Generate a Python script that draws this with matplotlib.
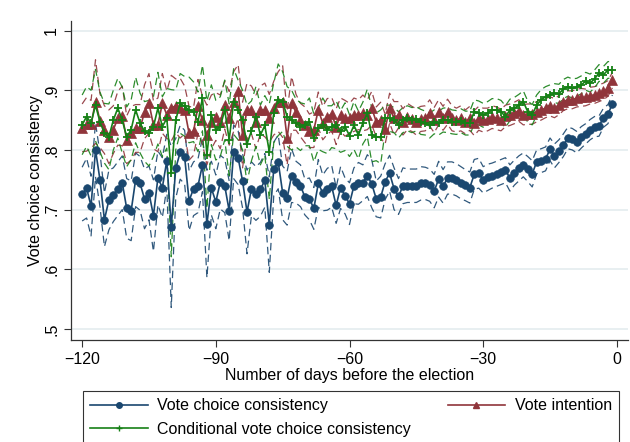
import numpy as np
import matplotlib
matplotlib.use("Agg")
import matplotlib.pyplot as plt
from matplotlib.lines import Line2D

plt.rcParams['font.family'] = ['Liberation Sans', 'DejaVu Sans']

# days before the election
days = np.arange(-120, 0)

# Vote choice consistency
vcc = [0.726, 0.736, 0.706, 0.800, 0.750, 0.683, 0.716, 0.725, 0.735, 0.745, 0.702, 0.698, 0.750, 0.744, 0.718, 0.728,
       0.690, 0.753, 0.737, 0.782, 0.671, 0.769, 0.796, 0.788, 0.715, 0.735, 0.740, 0.775, 0.676, 0.736, 0.713,
       0.746, 0.740, 0.698, 0.797, 0.787, 0.748, 0.696, 0.735, 0.727, 0.734, 0.749, 0.675, 0.768, 0.780, 0.728,
       0.719, 0.757, 0.746, 0.740, 0.721, 0.718, 0.702, 0.744, 0.728, 0.734, 0.739, 0.707, 0.737, 0.723,
       0.710, 0.740, 0.744, 0.745, 0.757, 0.743, 0.718, 0.721, 0.747, 0.761, 0.735, 0.722, 0.740, 0.740, 0.740,
       0.740, 0.744, 0.744, 0.741, 0.731, 0.751, 0.739, 0.753, 0.753, 0.750, 0.745, 0.741, 0.737, 0.759, 0.761,
       0.750, 0.754, 0.757, 0.760, 0.763, 0.766, 0.753, 0.762, 0.769, 0.775, 0.768, 0.760, 0.780, 0.782, 0.785,
       0.801, 0.790, 0.798, 0.808, 0.820, 0.818, 0.813, 0.821, 0.827, 0.834, 0.839, 0.840, 0.854, 0.860, 0.877]
vcc_ci = [0.045, 0.05, 0.05, 0.045, 0.045, 0.045, 0.05, 0.045, 0.045, 0.045, 0.05, 0.05, 0.045, 0.045, 0.05, 0.045,
          0.06, 0.045, 0.05, 0.045, 0.135, 0.05, 0.045, 0.045, 0.05, 0.045, 0.045, 0.045, 0.09, 0.045,
          0.045, 0.045, 0.045, 0.05, 0.045, 0.045, 0.045, 0.07, 0.045, 0.045, 0.045, 0.045, 0.08, 0.045, 0.045,
          0.045, 0.045, 0.045,
          0.035, 0.035, 0.03, 0.035, 0.035, 0.04, 0.03, 0.035, 0.035, 0.03, 0.035, 0.03, 0.035, 0.03, 0.035, 0.03,
          0.035, 0.04, 0.03, 0.035, 0.03, 0.03, 0.035,
          0.03, 0.03, 0.028, 0.028, 0.028, 0.028, 0.027, 0.027, 0.028, 0.03, 0.028, 0.027, 0.027, 0.027, 0.027,
          0.026, 0.026, 0.025, 0.025,
          0.022, 0.022, 0.021, 0.021, 0.021, 0.021, 0.022, 0.021, 0.021, 0.02, 0.021, 0.022, 0.02, 0.02, 0.02,
          0.019, 0.02, 0.019, 0.019, 0.018, 0.018, 0.018, 0.018, 0.017, 0.017, 0.017, 0.017, 0.016, 0.016, 0.015]

# Vote intention
vi = [0.837, 0.843, 0.843, 0.881, 0.849, 0.834, 0.822, 0.834, 0.853, 0.857, 0.817, 0.828, 0.836, 0.836, 0.864, 0.878,
      0.842, 0.842, 0.878, 0.859, 0.870, 0.874, 0.870, 0.867, 0.828, 0.831, 0.873, 0.850, 0.825, 0.847, 0.856,
      0.847, 0.875, 0.853, 0.881, 0.898, 0.825, 0.867, 0.867, 0.847, 0.867, 0.867, 0.853, 0.870, 0.881, 0.881,
      0.820, 0.878, 0.863, 0.850, 0.842, 0.832, 0.834, 0.867, 0.845, 0.856, 0.860, 0.839, 0.859, 0.853,
      0.853, 0.859, 0.859, 0.862, 0.859, 0.870, 0.847, 0.850, 0.835, 0.870, 0.853, 0.859, 0.847, 0.856, 0.852,
      0.847, 0.852, 0.853, 0.862, 0.850, 0.863, 0.853, 0.864, 0.853, 0.850, 0.853, 0.847, 0.853, 0.845, 0.853,
      0.850, 0.851, 0.855, 0.853, 0.850, 0.857, 0.859, 0.862, 0.866, 0.859, 0.860, 0.860, 0.864, 0.867, 0.870,
      0.873, 0.870, 0.875, 0.881, 0.884, 0.884, 0.887, 0.888, 0.888, 0.891, 0.892, 0.895, 0.898, 0.903, 0.917]
vi_ci = [0.04, 0.045, 0.04, 0.07, 0.045, 0.04, 0.045, 0.04, 0.045, 0.05, 0.04, 0.045, 0.04, 0.04, 0.045, 0.05,
         0.04, 0.045, 0.05, 0.04, 0.055, 0.045, 0.05, 0.04, 0.045, 0.04, 0.045, 0.04, 0.05, 0.045, 0.04,
         0.045, 0.04, 0.045, 0.05, 0.045, 0.055, 0.045, 0.04, 0.045, 0.04, 0.045, 0.04, 0.045, 0.05, 0.06,
         0.045, 0.045,
         0.03, 0.028, 0.03, 0.028, 0.03, 0.03, 0.028, 0.03, 0.028, 0.03, 0.028, 0.03, 0.025, 0.028, 0.025, 0.03,
         0.025, 0.028, 0.025, 0.03, 0.025, 0.025, 0.028,
         0.022, 0.022, 0.022, 0.021, 0.022, 0.021, 0.021, 0.022, 0.021, 0.021, 0.02, 0.021, 0.021, 0.02, 0.021,
         0.02, 0.02, 0.021, 0.02,
         0.02, 0.019, 0.019, 0.019, 0.018, 0.018, 0.018, 0.018, 0.018, 0.017, 0.017, 0.017, 0.017, 0.017, 0.016,
         0.016, 0.016, 0.016, 0.015, 0.015, 0.015, 0.015, 0.015, 0.014, 0.014, 0.014, 0.014, 0.014, 0.013, 0.013]

# Conditional vote choice consistency
cvc = [0.842, 0.856, 0.845, 0.875, 0.847, 0.828, 0.822, 0.850, 0.870, 0.850, 0.822, 0.834, 0.867, 0.845, 0.831, 0.828,
       0.839, 0.870, 0.839, 0.853, 0.761, 0.850, 0.878, 0.873, 0.867, 0.864, 0.847, 0.887, 0.792, 0.859, 0.833,
       0.839, 0.867, 0.817, 0.881, 0.867, 0.850, 0.810, 0.832, 0.856, 0.825, 0.841, 0.797, 0.862, 0.884, 0.881,
       0.856, 0.850, 0.845, 0.839, 0.842, 0.847, 0.820, 0.836, 0.842, 0.834, 0.839, 0.842, 0.831, 0.839,
       0.824, 0.841, 0.825, 0.845, 0.862, 0.825, 0.822, 0.822, 0.853, 0.853, 0.850, 0.842, 0.850, 0.853, 0.850,
       0.852, 0.847, 0.845, 0.841, 0.847, 0.845, 0.850, 0.850, 0.847, 0.846, 0.849, 0.845, 0.845, 0.864, 0.862,
       0.858, 0.862, 0.867, 0.867, 0.864, 0.856, 0.867, 0.870, 0.875, 0.881, 0.864, 0.859, 0.875, 0.884, 0.889,
       0.892, 0.895, 0.894, 0.902, 0.906, 0.903, 0.905, 0.909, 0.915, 0.912, 0.919, 0.929, 0.926, 0.934, 0.934]
cvc_ci = [0.05, 0.05, 0.055, 0.06, 0.05, 0.05, 0.055, 0.05, 0.05, 0.055, 0.05, 0.05, 0.055, 0.05, 0.05, 0.055,
          0.05, 0.06, 0.05, 0.05, 0.14, 0.05, 0.05, 0.05, 0.055, 0.05, 0.05, 0.055, 0.09, 0.05, 0.05,
          0.05, 0.05, 0.06, 0.055, 0.05, 0.05, 0.065, 0.05, 0.05, 0.05, 0.05, 0.08, 0.05, 0.06, 0.05, 0.05, 0.05,
          0.04, 0.04, 0.035, 0.04, 0.04, 0.035, 0.045, 0.04, 0.035, 0.04, 0.035, 0.04, 0.035, 0.04, 0.04, 0.035,
          0.04, 0.045, 0.04, 0.045,
          0.022, 0.022, 0.021, 0.022, 0.021, 0.021, 0.021, 0.02, 0.021, 0.02, 0.021, 0.02, 0.02, 0.02, 0.021,
          0.02, 0.02, 0.02, 0.02, 0.02, 0.02, 0.02,
          0.02, 0.019, 0.019, 0.019, 0.019, 0.018, 0.018, 0.018, 0.018, 0.018, 0.018, 0.017, 0.017, 0.017, 0.017,
          0.017, 0.016, 0.016, 0.016, 0.016, 0.016, 0.015, 0.015, 0.015, 0.015, 0.015, 0.014, 0.014, 0.014, 0.014]

yticks = [0.5, 0.6, 0.7, 0.8, 0.9, 1.0]
ytick_labels = ['.5', '.6', '.7', '.8', '.9', '1']
xticks = [-120, -90, -60, -30, 0]

navy = '#1a476f'
maroon = '#90353b'
green = '#168016'

fig = plt.figure(figsize=(6.3, 4.42), dpi=100)
ax = fig.add_axes([71 / 630, 1 - 340 / 442, 557 / 630, 319 / 442])

series = [
    (vcc, vcc_ci, navy, 'o', 5.5, 'Vote choice consistency'),
    (vi, vi_ci, maroon, '^', 6.5, 'Vote intention'),
    (cvc, cvc_ci, green, '+', 6, 'Conditional vote choice consistency'),
]

# confidence bands (dashed)
for vals, ci, col, mk, ms, lab in series:
    vals = np.array(vals)
    ci = np.array(ci)
    ax.plot(days, vals + ci, color=col, lw=0.9, dashes=(6, 3.5), alpha=0.9, zorder=2)
    ax.plot(days, vals - ci, color=col, lw=0.9, dashes=(6, 3.5), alpha=0.9, zorder=2)

# point estimates
for i, (vals, ci, col, mk, ms, lab) in enumerate(series):
    ax.plot(days, vals, color=col, lw=1.2, marker=mk, markersize=ms,
            markeredgewidth=1.3 if mk == '+' else 0.5, zorder=3 + i, label=lab)

ax.set_xlim(-122.5, 2.5)
ax.set_ylim(0.4816, 1.016)
ax.set_yticks(yticks)
ax.set_yticklabels(ytick_labels, rotation=90, va='center')
ax.set_xticks(xticks)
ax.tick_params(labelsize=11.5, length=5, width=0.8, color='#333333')
ax.grid(axis='y', color='#e6eef0', lw=1.3)
ax.set_axisbelow(True)
for s in ['top', 'right']:
    ax.spines[s].set_visible(False)
for s in ['left', 'bottom']:
    ax.spines[s].set_linewidth(0.9)
    ax.spines[s].set_color('#333333')

ax.set_xlabel('Number of days before the election', fontsize=11.5, labelpad=1)
ax.set_ylabel('Vote choice consistency', fontsize=11.5, labelpad=1)

# legend handles (small markers as in the original)
leg_handles = [
    Line2D([], [], color=navy, lw=1.2, marker='o', markersize=4),
    Line2D([], [], color=green, lw=1.2, marker='+', markersize=4, markeredgewidth=1),
    Line2D([], [], color=maroon, lw=1.2, marker='^', markersize=4.5),
]
leg_labels = ['Vote choice consistency', 'Conditional vote choice consistency', 'Vote intention']
leg = fig.legend(leg_handles, leg_labels, ncol=2, mode='expand',
                 bbox_to_anchor=(83 / 630, -0.2, 536 / 630, 0.2 + 1 - 391 / 442),
                 loc='upper left', borderaxespad=0, fontsize=11.5, handlelength=3.6,
                 handletextpad=0.6, labelspacing=0.55, borderpad=0.45, frameon=True,
                 fancybox=False, edgecolor='black')
leg.get_frame().set_linewidth(0.8)

fig.savefig('out.png', dpi=100)
